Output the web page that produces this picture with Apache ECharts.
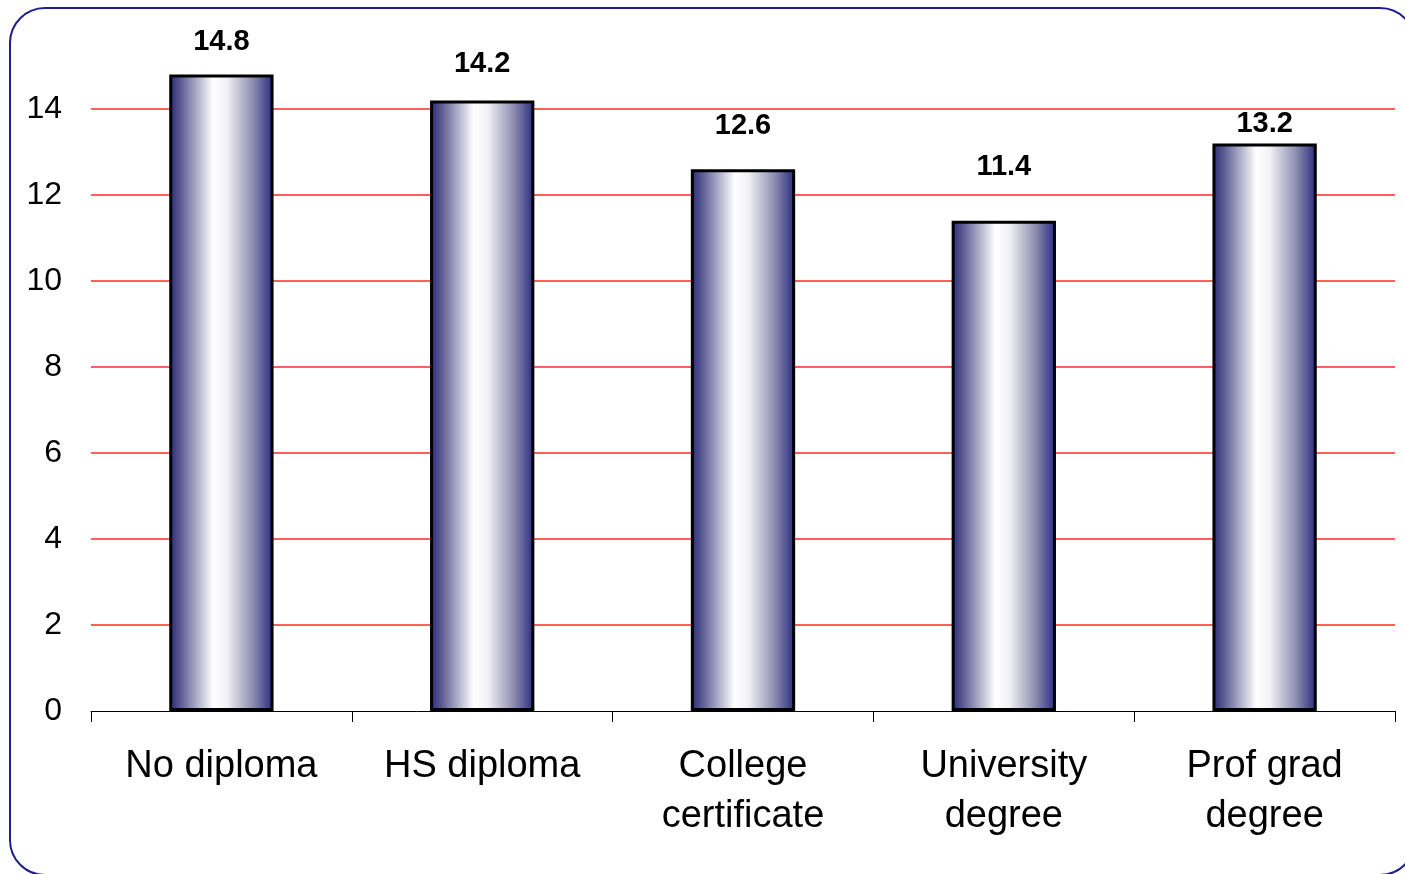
<!DOCTYPE html>
<html>
<head>
<meta charset="utf-8">
<script src="https://cdn.jsdelivr.net/npm/echarts@6/dist/echarts.min.js"></script>
<style>
  html, body { margin: 0; padding: 0; background: #ffffff; }
  #chart { width: 1405px; height: 874px; }
</style>
</head>
<body>
<div id="chart"></div>
<script>
// Categories and values
const categories = ['No diploma', 'HS diploma', 'College\ncertificate', 'University\ndegree', 'Prof grad\ndegree'];
const values = [14.8, 14.2, 12.6, 11.4, 13.2];
const yTicks = { min: 0, max: 16, step: 2 };

// Gap between each bar top and its value label (px)
const labelGaps = [18, 21, 28, 39, 4];

const FONT = '"Liberation Sans", Arial, Helvetica, sans-serif';

const barFill = new echarts.graphic.LinearGradient(0, 0, 1, 0, [
  { offset: 0, color: '#28287e' },
  { offset: 0.1, color: '#56568f' },
  { offset: 0.42, color: '#ffffff' },
  { offset: 0.55, color: '#f2f2f6' },
  { offset: 0.8, color: '#8e8eb0' },
  { offset: 1, color: '#28287e' }
]);

const chart = echarts.init(document.getElementById('chart'), null, { renderer: 'canvas' });

chart.setOption({
  backgroundColor: '#ffffff',
  animation: false,
  graphic: [{
    type: 'rect',
    z: 100,
    silent: true,
    shape: { x: 10, y: 8, width: 1405, height: 867, r: 35 },
    style: { fill: 'none', stroke: '#1e1e8c', lineWidth: 2 }
  }],
  grid: {
    left: 91, right: 10, top: 23, bottom: 163,
    containLabel: false,
    outerBoundsMode: 'none'
  },
  xAxis: {
    type: 'category',
    data: categories,
    boundaryGap: true,
    axisLine: { show: true, lineStyle: { color: '#000000', width: 1 } },
    axisTick: { show: true, alignWithLabel: false, length: 11, lineStyle: { color: '#000000', width: 1 } },
    axisLabel: {
      color: '#000000',
      fontFamily: FONT,
      fontSize: 38,
      lineHeight: 50,
      margin: 31,
      interval: 0
    },
    splitLine: { show: false }
  },
  yAxis: {
    type: 'value',
    min: yTicks.min,
    max: yTicks.max,
    interval: yTicks.step,
    axisLine: { show: false },
    axisTick: { show: false },
    axisLabel: {
      color: '#000000',
      fontFamily: FONT,
      fontSize: 32,
      margin: 29,
      showMaxLabel: false
    },
    splitLine: {
      show: true,
      showMinLine: false,
      showMaxLine: false,
      lineStyle: { color: '#ff2a2a', width: 1.5 }
    }
  },
  series: [{
    type: 'bar',
    barWidth: '40%',
    data: values.map((v, i) => ({
      value: v,
      label: { distance: labelGaps[i] }
    })),
    itemStyle: {
      color: barFill,
      borderColor: '#000000',
      borderWidth: 3
    },
    label: {
      show: true,
      position: 'top',
      color: '#000000',
      fontFamily: FONT,
      fontWeight: 'bold',
      fontSize: 29,
      lineHeight: 30,
      formatter: p => p.value.toFixed(1)
    }
  }]
});
</script>
</body>
</html>
